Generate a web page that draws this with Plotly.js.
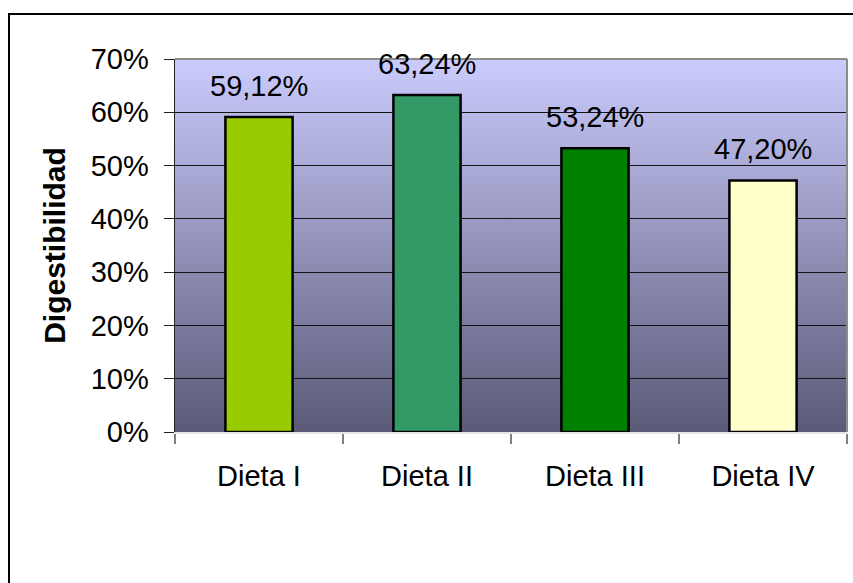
<!DOCTYPE html>
<html>
<head>
<meta charset="utf-8">
<script src="https://cdn.plot.ly/plotly-3.0.1.min.js"></script>
<style>
  html, body { margin: 0; padding: 0; background: #fff; }
  #wrap { position: relative; width: 853px; height: 583px; overflow: hidden; }
  #chart { width: 853px; height: 583px; }
  #frame { position: absolute; left: 8px; top: 13px; width: 900px; height: 700px;
           border: 2px solid #000; pointer-events: none; box-sizing: border-box; }
</style>
</head>
<body>
<div id="wrap">
  <div id="chart"></div>
  <div id="frame"></div>
</div>
<script>
// Data
const categories = ["Dieta I", "Dieta II", "Dieta III", "Dieta IV"];
const digestibilidad = [0.5912, 0.6324, 0.5324, 0.4720];
const barColors = ["#99cc00", "#339966", "#008000", "#ffffcc"];
const yTickValues = [0, 0.1, 0.2, 0.3, 0.4, 0.5, 0.6, 0.7];
const yTickLabels = ["0%", "10%", "20%", "30%", "40%", "50%", "60%", "70%"];
const yTitle = "Digestibilidad";

const fmt = v => (v * 100).toFixed(2).replace(".", ",") + "%";

const gradSvg = '<svg xmlns="http://www.w3.org/2000/svg" width="100" height="100" preserveAspectRatio="none">' +
  '<defs><linearGradient id="g" x1="0" y1="0" x2="0" y2="1">' +
  '<stop offset="0" stop-color="#cbcbfd"/><stop offset="1" stop-color="#5a5a78"/>' +
  '</linearGradient></defs><rect width="100" height="100" fill="url(#g)"/></svg>';
const gradUri = "data:image/svg+xml;base64," + btoa(gradSvg);

const font = "Liberation Sans, Arial, sans-serif";

const trace = {
  type: "bar",
  x: categories,
  y: digestibilidad,
  marker: { color: barColors, line: { color: "#000", width: 2.5 } },
  hoverinfo: "skip"
};

const annotations = categories.map((c, i) => ({
  x: c, y: digestibilidad[i], xref: "x", yref: "y",
  text: fmt(digestibilidad[i]), showarrow: false,
  yanchor: "bottom", yshift: 13,
  font: { family: font, size: 29, color: "#000" }
}));

const layout = {
  width: 853, height: 583,
  margin: { l: 175, r: 6, t: 59, b: 151, pad: 0 },
  paper_bgcolor: "#fff",
  plot_bgcolor: "rgba(0,0,0,0)",
  bargap: 0.6,
  showlegend: false,
  font: { family: font, color: "#000" },
  images: [{
    source: gradUri, xref: "paper", yref: "paper",
    x: 0, y: 1, sizex: 1, sizey: 1, sizing: "stretch",
    xanchor: "left", yanchor: "top", layer: "below"
  }],
  xaxis: {
    type: "category",
    showgrid: false, zeroline: false,
    showline: true, linecolor: "#e4e4e4", linewidth: 2,
    ticks: "outside", tickson: "boundaries", ticklen: 10, tickcolor: "#808080", tickwidth: 2,
    ticklabelstandoff: 17,
    tickfont: { family: font, size: 29, color: "#000" },
    fixedrange: true
  },
  yaxis: {
    range: [0, 0.7],
    tickvals: yTickValues, ticktext: yTickLabels,
    showgrid: true, gridcolor: "#141414", gridwidth: 1,
    zeroline: false,
    showline: true, linecolor: "#222", linewidth: 1.5,
    ticks: "outside", ticklen: 10, tickcolor: "#222", tickwidth: 1,
    ticklabelstandoff: 9,
    tickfont: { family: font, size: 29, color: "#000" },
    title: { text: "<b>" + yTitle + "</b>", font: { family: font, size: 30, color: "#000" }, standoff: 16 },
    fixedrange: true
  },
  shapes: [
    { type: "line", xref: "paper", yref: "paper", x0: 0, x1: 1, y0: 1, y1: 1,
      line: { color: "#8c8c8c", width: 2 } },
    { type: "line", xref: "paper", yref: "paper", x0: 1, x1: 1, y0: 0, y1: 1,
      line: { color: "#8c8c8c", width: 2 } }
  ],
  annotations: annotations
};

Plotly.newPlot("chart", [trace], layout, { displayModeBar: false, staticPlot: true });
</script>
</body>
</html>
